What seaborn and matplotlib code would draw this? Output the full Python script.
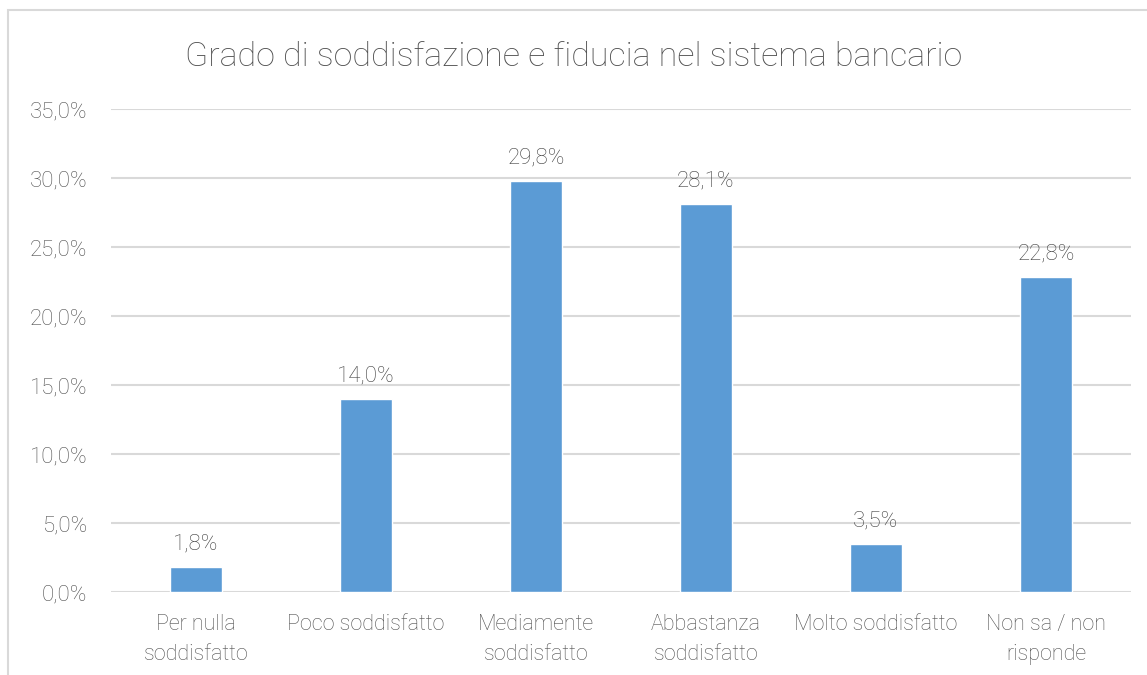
import matplotlib
matplotlib.use("Agg")
import matplotlib.pyplot as plt
import matplotlib.patches as mpatches
from matplotlib.ticker import FuncFormatter, MultipleLocator
import seaborn as sns
import pandas as pd

categories = [
    "Per nulla\nsoddisfatto",
    "Poco soddisfatto",
    "Mediamente\nsoddisfatto",
    "Abbastanza\nsoddisfatto",
    "Molto soddisfatto",
    "Non sa / non\nrisponde",
]
values = [1.8, 14.0, 29.8, 28.1, 3.5, 22.8]
title = "Grado di soddisfazione e fiducia nel sistema bancario"

sns.set_theme(style="white")
plt.rcParams["font.family"] = ["Roboto", "DejaVu Sans"]
plt.rcParams["font.weight"] = "light"

text_grey = "#505050"
bar_blue = "#5B9BD5"
grid_grey = "#D9D9D9"

fig = plt.figure(figsize=(11.47, 6.75), dpi=100)
ax = fig.add_axes([111 / 1147, 83 / 675, 1020 / 1147, 483 / 675])

df = pd.DataFrame({"categoria": categories, "percentuale": values})
sns.barplot(data=df, x="categoria", y="percentuale", color=bar_blue,
            saturation=1, width=0.31, ax=ax)

ax.set_ylim(0, 35)
ax.yaxis.set_major_locator(MultipleLocator(5))
ax.yaxis.set_major_formatter(FuncFormatter(lambda v, _: f"{v:.1f}%".replace(".", ",")))
ax.set_xlabel("")
ax.set_ylabel("")
ax.grid(axis="y", color=grid_grey, linewidth=1.5)
ax.set_axisbelow(True)
for s in ax.spines.values():
    s.set_visible(False)
ax.tick_params(axis="y", length=0, pad=17, labelsize=16, labelcolor=text_grey)
ax.tick_params(axis="x", length=0, pad=16, labelsize=15.5, labelcolor=text_grey)
for lbl in ax.get_xticklabels():
    lbl.set_linespacing(1.55)

ax.bar_label(ax.containers[0],
             labels=[f"{v:.1f}%".replace(".", ",") for v in values],
             padding=9, fontsize=16, color="#404040")

fig.text(0.5, 0.915, title, ha="center", va="center", fontsize=24.5, color=text_grey)

# light frame around the chart area
fig.patches.append(mpatches.Rectangle((8 / 1147, -0.05), 1.2, 1.05 - 10 / 675,
                                      transform=fig.transFigure, fill=False,
                                      edgecolor="#D9D9D9", linewidth=1.5))

fig.savefig("out.png", dpi=100, facecolor="white")
